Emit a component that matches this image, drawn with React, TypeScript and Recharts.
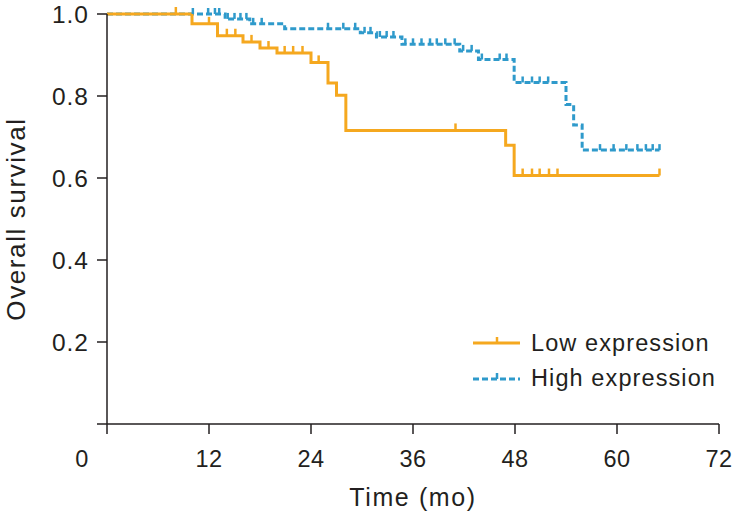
import { LineChart, Line, XAxis, YAxis, Legend, Label } from 'recharts';

// Kaplan-Meier steps (time in months, survival, censored flag)
const lowTimes = [0, 8.1, 10, 12, 13, 14.1, 15.1, 16, 17, 18, 19, 20, 20.9, 21.9, 23, 24, 24.9, 26, 27, 28.1, 41, 46.9, 47.9, 48.9, 50, 50.9, 52, 53, 65];
const lowSurvival = [1, 1, 0.976, 0.976, 0.947, 0.947, 0.947, 0.932, 0.932, 0.917, 0.917, 0.905, 0.905, 0.905, 0.905, 0.882, 0.882, 0.832, 0.802, 0.716, 0.716, 0.68, 0.606, 0.606, 0.606, 0.606, 0.606, 0.606, 0.606];
const lowCensored = [0, 1, 0, 1, 0, 1, 1, 0, 1, 0, 1, 0, 1, 1, 1, 0, 1, 0, 0, 0, 1, 0, 0, 1, 1, 1, 1, 1, 1];

const highTimes = [0, 10.1, 11.9, 12.7, 13.2, 13.9, 14.2, 15.0, 15.7, 16.4, 16.8, 17.2, 18.2, 20.9, 26.0, 27.8, 29.2, 29.8, 30.3, 31.0, 31.7, 32.1, 32.9, 33.7, 34.7, 35.1, 36.0, 37.0, 38.0, 38.8, 39.8, 40.9, 41.5, 41.9, 42.9, 43.7, 44.1, 46.2, 47.0, 47.9, 48.9, 50.0, 50.9, 51.9, 54.0, 54.9, 55.9, 58.0, 59.6, 61.1, 62.4, 63.4, 64.2, 65.0];
const highSurvival = [1, 1, 1, 1, 1, 0.988, 0.988, 0.988, 0.988, 0.988, 0.976, 0.976, 0.976, 0.964, 0.964, 0.964, 0.964, 0.954, 0.954, 0.954, 0.944, 0.944, 0.944, 0.944, 0.926, 0.926, 0.926, 0.926, 0.926, 0.926, 0.926, 0.926, 0.91, 0.91, 0.91, 0.889, 0.889, 0.889, 0.889, 0.833, 0.833, 0.833, 0.833, 0.833, 0.779, 0.729, 0.668, 0.668, 0.668, 0.668, 0.668, 0.668, 0.668, 0.668];
const highCensored = [0, 1, 1, 1, 1, 0, 1, 1, 1, 1, 0, 1, 1, 0, 1, 1, 1, 0, 1, 1, 0, 1, 1, 1, 0, 1, 1, 1, 1, 1, 1, 1, 0, 1, 1, 0, 1, 1, 1, 0, 1, 1, 1, 1, 0, 0, 0, 1, 1, 1, 1, 1, 1, 1];

const xTicks = [0, 12, 24, 36, 48, 60, 72];
const yTicks = [0, 0.2, 0.4, 0.6, 0.8, 1.0];

const lowData = lowTimes.map((t, i) => ({ t, s: lowSurvival[i], c: lowCensored[i] }));
const highData = highTimes.map((t, i) => ({ t, s: highSurvival[i], c: highCensored[i] }));

const ORANGE = '#F5A81F';
const BLUE = '#2F9ACB';
const INK = '#231F20';
const FONT = '"Liberation Sans", Arial, sans-serif';

const censorDot = (color: string, len: number) => (props: any) => {
  const { cx, cy, payload, index } = props;
  if (!payload || !payload.c) return <g key={`n-${index}`} />;
  return <line key={`c-${index}`} x1={cx} x2={cx} y1={cy} y2={cy - len} stroke={color} strokeWidth={2.5} />;
};

const XTick = (props: any) => {
  const { x, y, payload } = props;
  return (
    <text x={payload.value === 0 ? x - 25 : x} y={y} dy="0.71em" textAnchor="middle" fill={INK}
      fontFamily={FONT} fontSize={23.5} letterSpacing={0.4}>
      {payload.value}
    </text>
  );
};

const YTick = (props: any) => {
  const { x, y, payload } = props;
  if (payload.value === 0) return <g />;
  return (
    <text x={x} y={y} dy="0.36em" textAnchor="end" fill={INK} fontFamily={FONT} fontSize={24.5} letterSpacing={1}>
      {payload.value.toFixed(1)}
    </text>
  );
};

const LegendBox = () => (
  <svg width={260} height={72} style={{ display: 'block' }}>
    <line x1={0} x2={47} y1={20} y2={20} stroke={ORANGE} strokeWidth={3} />
    <line x1={24} x2={24} y1={20} y2={14} stroke={ORANGE} strokeWidth={2.5} />
    <text x={58} y={20} dy="0.36em" fill={INK} fontFamily={FONT} fontSize={23.5} letterSpacing={1.1}>Low expression</text>
    <line x1={0} x2={47} y1={56} y2={56} stroke={BLUE} strokeWidth={3} strokeDasharray="6 3" />
    <line x1={24} x2={24} y1={56} y2={50} stroke={BLUE} strokeWidth={2.5} />
    <text x={58} y={55} dy="0.36em" fill={INK} fontFamily={FONT} fontSize={23.5} letterSpacing={1.1}>High expression</text>
  </svg>
);

export default function App() {
  return (
    <div style={{ position: 'absolute', left: 0, top: 0, background: '#fff' }}>
      <LineChart width={734} height={517} margin={{ top: 14, right: 15, bottom: 0, left: 0 }}>
        <XAxis
          type="number"
          dataKey="t"
          domain={[0, 72]}
          ticks={xTicks}
          height={93}
          tickSize={10}
          tickMargin={16}
          stroke={INK}
          strokeWidth={1.5}
          tick={<XTick />}
          allowDuplicatedCategory={false}
        >
          <Label
            content={() => (
              <text x={413} y={497} dy="0.36em" textAnchor="middle" fill={INK} fontFamily={FONT} fontSize={25} letterSpacing={1.6}>
                Time (mo)
              </text>
            )}
          />
        </XAxis>
        <YAxis
          type="number"
          domain={[0, 1]}
          ticks={yTicks}
          width={107}
          tickSize={10}
          tickMargin={8}
          stroke={INK}
          strokeWidth={1.5}
          tick={<YTick />}
        >
          <Label
            content={() => (
              <text x={16} y={219} dy="0.36em" textAnchor="middle" transform="rotate(-90 16 219)" fill={INK}
                fontFamily={FONT} fontSize={26} letterSpacing={1.6}>
                Overall survival
              </text>
            )}
          />
        </YAxis>
        <Legend
          layout="horizontal"
          verticalAlign="middle"
          align="center"
          wrapperStyle={{ left: 473, top: 323, width: 260 }}
          content={() => <LegendBox />}
        />
        <Line
          data={highData}
          dataKey="s"
          type="stepAfter"
          stroke={BLUE}
          strokeWidth={3}
          strokeDasharray="6 3"
          dot={censorDot(BLUE, 6)}
          activeDot={false}
          name="High expression"
          isAnimationActive={false}
        />
        <Line
          data={lowData}
          dataKey="s"
          type="stepAfter"
          stroke={ORANGE}
          strokeWidth={3}
          dot={censorDot(ORANGE, 7)}
          activeDot={false}
          name="Low expression"
          isAnimationActive={false}
        />
      </LineChart>
    </div>
  );
}
